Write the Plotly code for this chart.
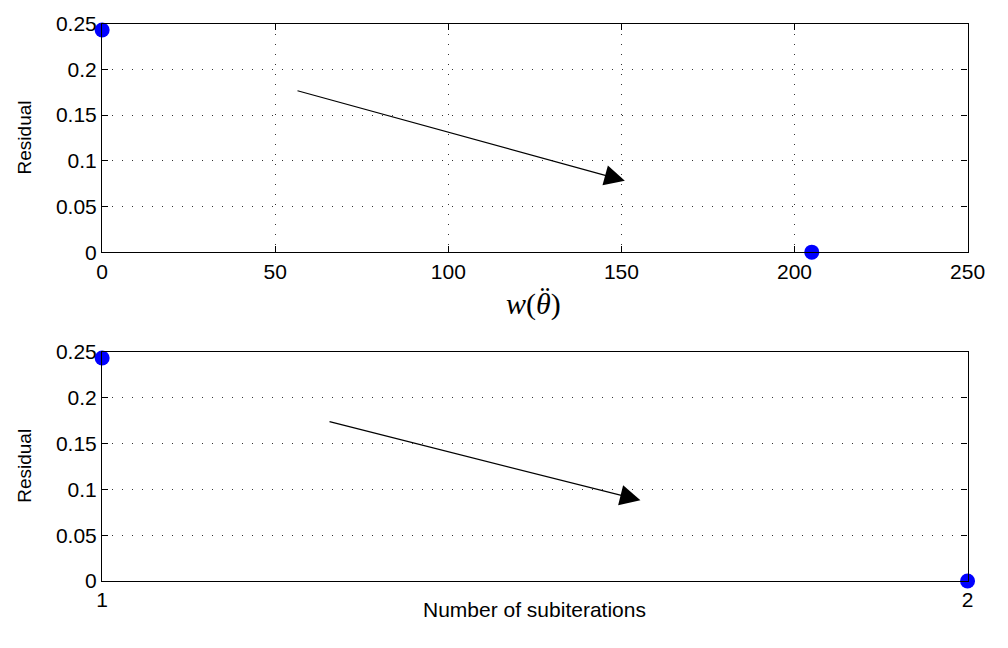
import plotly.graph_objects as go
from plotly.subplots import make_subplots

# Data
weights = [0, 205]
residual_top = [0.243, 0.0]
subiterations = [1, 2]
residual_bottom = [0.243, 0.0]

y_ticks = [0, 0.05, 0.1, 0.15, 0.2, 0.25]
y_tick_labels = ["0", "0.05", "0.1", "0.15", "0.2", "0.25"]
x_ticks_top = [0, 50, 100, 150, 200, 250]
x_ticks_bottom = [1, 2]

# arrow annotations (start -> end) in data units
arrow_top = dict(start=(56, 0.177), end=(151, 0.078))
arrow_bottom = dict(start=(1.261, 0.174), end=(1.622, 0.088))

W, H = 1008, 648

fig = make_subplots(rows=2, cols=1)

marker = dict(color="#0000ff", size=15, line=dict(width=0))
fig.add_trace(go.Scatter(x=weights, y=residual_top, mode="markers", marker=marker,
                         cliponaxis=False, showlegend=False), row=1, col=1)
fig.add_trace(go.Scatter(x=subiterations, y=residual_bottom, mode="markers", marker=marker,
                         cliponaxis=False, showlegend=False), row=2, col=1)

tickfont = dict(family="Liberation Sans, Arial, sans-serif", size=21, color="black")
common_axis = dict(showline=True, linecolor="black", linewidth=1.3, mirror="ticks",
                   ticks="inside", ticklen=6, tickcolor="black", tickwidth=1,
                   tickfont=tickfont, zeroline=False, showgrid=True,
                   gridcolor="#333333", gridwidth=1, griddash="1px,9px")

xd = [98.5 / W, 985 / W]
fig.update_layout(
    xaxis=dict(domain=xd, range=[0, 250], tickvals=x_ticks_top, anchor="y", **common_axis),
    yaxis=dict(domain=[1 - 249 / H, 1 - 12 / H], range=[0, 0.25], tickvals=y_ticks,
               ticktext=y_tick_labels, anchor="x", **common_axis),
    xaxis2=dict(domain=xd, range=[1, 2], tickvals=x_ticks_bottom, anchor="y2", **common_axis),
    yaxis2=dict(domain=[1 - 590 / H, 1 - 352 / H], range=[0, 0.25], tickvals=y_ticks,
                ticktext=y_tick_labels, anchor="x2", **common_axis),
    width=W, height=H, autosize=False,
    margin=dict(l=0, r=0, t=0, b=0, pad=0),
    paper_bgcolor="white", plot_bgcolor="white",
)

for ref, arr in (("", arrow_top), ("2", arrow_bottom)):
    fig.add_annotation(x=arr["end"][0], y=arr["end"][1], ax=arr["start"][0], ay=arr["start"][1],
                       xref="x" + ref, yref="y" + ref, axref="x" + ref, ayref="y" + ref,
                       text="", showarrow=True, arrowhead=2, arrowsize=3.4, arrowwidth=1.2,
                       arrowcolor="black", standoff=0)

label_font = dict(family="Liberation Sans, Arial, sans-serif", size=19, color="black")
fig.add_annotation(x=19 / W, y=1 - 130.5 / H, xref="paper", yref="paper", text="Residual",
                   textangle=-90, showarrow=False, font=label_font, xanchor="center", yanchor="middle")
fig.add_annotation(x=19 / W, y=1 - 471 / H, xref="paper", yref="paper", text="Residual",
                   textangle=-90, showarrow=False, font=label_font, xanchor="center", yanchor="middle")
serif = "Liberation Serif, Times New Roman, serif"
fig.add_annotation(x=540 / W, y=1 - 303 / H, xref="paper", yref="paper",
                   text="<i>w</i>(<i>\u03b8</i>)", showarrow=False,
                   font=dict(family=serif, size=30, color="black"),
                   xanchor="center", yanchor="middle")
fig.add_annotation(x=552 / W, y=1 - 294.5 / H, xref="paper", yref="paper",
                   text="\u00a8", showarrow=False,
                   font=dict(family=serif, size=30, color="black"),
                   xanchor="center", yanchor="middle")
fig.add_annotation(x=541.7 / W, y=1 - 620 / H, xref="paper", yref="paper",
                   text="Number of subiterations", showarrow=False,
                   font=dict(family="Liberation Sans, Arial, sans-serif", size=21, color="black"),
                   xanchor="center", yanchor="middle")

fig.write_html("out.html", config={"responsive": False})
